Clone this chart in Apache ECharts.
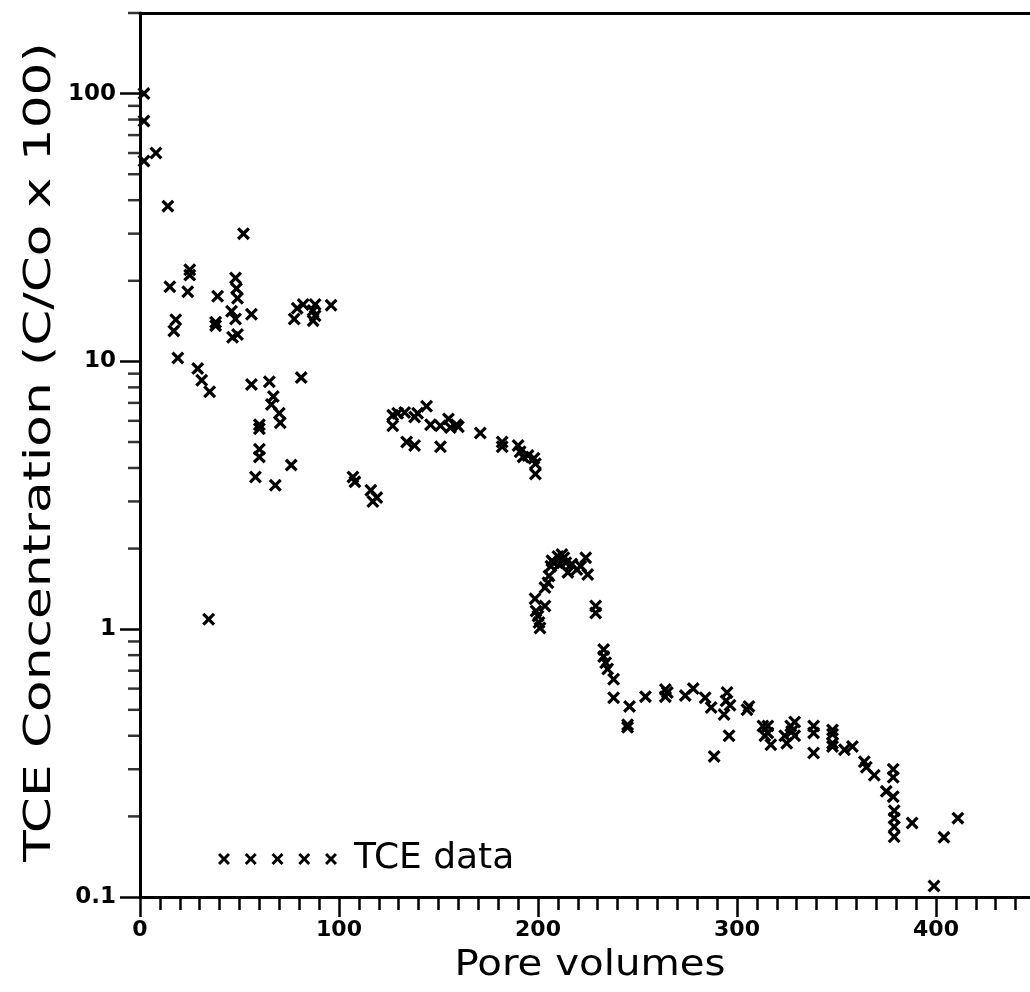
<!DOCTYPE html>
<html>
<head>
<meta charset="utf-8">
<script src="https://cdn.jsdelivr.net/npm/echarts@6/dist/echarts.min.js"></script>
<style>
html,body{margin:0;padding:0;background:#fff;}
#chart{width:1030px;height:992px;}
</style>
</head>
<body>
<div id="chart"></div>
<script>
// Pore volumes (x) and TCE concentration C/Co x 100 (y)
const poreVolumes = [
  2,2,2,8,14,15,18,17,19,24,25,25,29,31,35,34.5,38,38,39,46,48,46.5,49,48,48.5,49,52,56,56,58,
  60,60,60,60,65,67,66,70,70.5,68,76,77.5,79,81,82,87,87,88,88,96,
  107,108,116,119,117,
  127,127,129.5,133,134,138,138,139.5,144,146,151,151,155,156,159,160,171,182,182,190,191,192.5,195,198,198.7,198.7,
  198.5,199,200,200.5,201,203.5,203.5,205,205.5,206.5,207,208,210,211,212,213,214,215,217,219.5,221.5,224,225,229,229,
  233,233,234,235,238,238,
  245,245,246,254,264,264,265,274,278,284,287,288.5,293.5,294.5,295,296,296.5,305,306,
  313,314,315.5,315.5,317,324,325,327,327.5,329,329,338.5,338.5,338.5,348,348,348,348,354,358,
  364,365,369,375,378.5,378.5,378.5,379,379,379,379,388,399,404,411
];
const tceConc = [
  100,79,56,60,38,19,14.3,13,10.3,18.2,21,22,9.4,8.5,7.7,1.09,14,13.6,17.5,15.4,14.4,12.3,12.6,20.5,18.7,17.2,30,15,8.2,3.7,
  5.8,5.6,4.7,4.4,8.4,7.4,6.9,6.4,5.9,3.45,4.1,14.4,15.8,8.7,16.3,15.5,14.2,16.3,14.8,16.2,
  3.7,3.55,3.3,3.1,3.0,
  6.3,5.75,6.4,6.45,5.0,6.2,4.85,6.4,6.8,5.8,5.75,4.8,6.1,5.66,5.8,5.7,5.4,5.0,4.8,4.85,4.6,4.4,4.45,4.35,4.15,3.8,
  1.3,1.17,1.12,1.06,1.01,1.22,1.43,1.49,1.58,1.72,1.8,1.77,1.87,1.75,1.9,1.85,1.77,1.63,1.75,1.67,1.72,1.85,1.6,1.22,1.15,
  0.84,0.79,0.75,0.71,0.65,0.555,
  0.44,0.43,0.515,0.56,0.595,0.56,0.58,0.565,0.6,0.555,0.51,0.335,0.48,0.54,0.58,0.4,0.52,0.5,0.515,
  0.435,0.4,0.435,0.41,0.37,0.4,0.375,0.435,0.415,0.45,0.4,0.435,0.41,0.345,0.42,0.405,0.375,0.365,0.355,0.365,
  0.32,0.305,0.285,0.248,0.3,0.28,0.237,0.21,0.197,0.183,0.168,0.189,0.11,0.167,0.197
];
// y-axis minor tick values (log decades 2..9)
const yMinorTicks = [0.2,0.3,0.4,0.5,0.6,0.7,0.8,0.9,2,3,4,5,6,7,8,9,20,30,40,50,60,70,80,90,200];
const seriesName = 'TCE data';
const yTitle = 'TCE Concentration (C/Co x 100)';
const xTitle = 'Pore volumes';

function crossPoly(cx, cy, a, h) {
  const p = [[-a+h,-a],[0,-h],[a-h,-a],[a,-a+h],[h,0],[a,a-h],[a-h,a],[0,h],[-a+h,a],[-a,a-h],[-h,0],[-a,-a+h]];
  return 'M' + p.map(q => (cx+q[0]).toFixed(2) + ',' + (cy+q[1]).toFixed(2)).join(' L') + ' Z';
}
const markerPath = 'path://' + crossPoly(6, 6, 6, 2.1);
const legendCenters = [6, 32.75, 59.5, 86.25, 113];
const legendIcon = 'path://' + legendCenters.map(c => crossPoly(c, 6, 6, 2.1)).join(' ');

const chart = echarts.init(document.getElementById('chart'), null, {renderer: 'canvas'});
const black = '#000';
const axisFont = {fontFamily: 'DejaVu Sans', fontWeight: 'bold', color: black};
chart.setOption({
  animation: false,
  backgroundColor: '#fff',
  grid: {left: 140, top: 13, right: -105, bottom: 95, outerBoundsMode: 'none', containLabel: false},
  xAxis: [{
    type: 'value', min: 0, max: 500, interval: 100,
    axisLine: {show: true, onZero: false, lineStyle: {color: black, width: 3}},
    axisTick: {show: true, length: 20, lineStyle: {color: black, width: 2.5}},
    minorTick: {show: true, splitNumber: 10, length: 13, lineStyle: {color: black, width: 2.5}},
    splitLine: {show: false},
    axisLabel: Object.assign({margin: 22, fontSize: 22}, axisFont)
  }, {
    type: 'value', position: 'top', min: 0, max: 500,
    axisLine: {show: true, onZero: false, lineStyle: {color: black, width: 3}},
    axisTick: {show: false}, axisLabel: {show: false}, splitLine: {show: false}
  }],
  yAxis: {
    type: 'log', logBase: 10, min: 0.1, max: 200,
    axisLine: {show: true, onZero: false, lineStyle: {color: black, width: 3}},
    axisTick: {show: true, length: 20, lineStyle: {color: black, width: 2.5}},
    splitLine: {show: false},
    axisLabel: Object.assign({margin: 24, fontSize: 23, showMaxLabel: false}, axisFont)
  },
  legend: {
    data: [{name: seriesName, icon: legendIcon}],
    left: 213, top: 836, itemWidth: 119, itemHeight: 12, itemGap: 0,
    textStyle: {fontSize: 36, fontFamily: 'DejaVu Sans', color: black, padding: [0, 0, 0, 12]}
  },
  graphic: [{
    type: 'text', x: 40, y: 452, rotation: Math.PI / 2, scaleX: 1.36,
    style: {text: yTitle, fontSize: 38, fontFamily: 'DejaVu Sans', fill: black, align: 'center', verticalAlign: 'middle'}
  }, {
    type: 'text', x: 590, y: 966, scaleX: 1.12,
    style: {text: xTitle, fontSize: 36, fontFamily: 'DejaVu Sans', fill: black, align: 'center', verticalAlign: 'middle'}
  }],
  series: [{
    name: seriesName, type: 'scatter',
    data: poreVolumes.map((x, i) => [x, tceConc[i]]),
    symbol: markerPath, symbolSize: 13,
    itemStyle: {color: black, opacity: 1}
  }, {
    name: 'yMinor', type: 'scatter', silent: true, clip: false,
    data: yMinorTicks.map(v => [0, v]),
    symbol: 'rect', symbolSize: [12, 2.5], symbolOffset: [-6, 0],
    itemStyle: {color: black}
  }]
});
</script>
</body>
</html>
